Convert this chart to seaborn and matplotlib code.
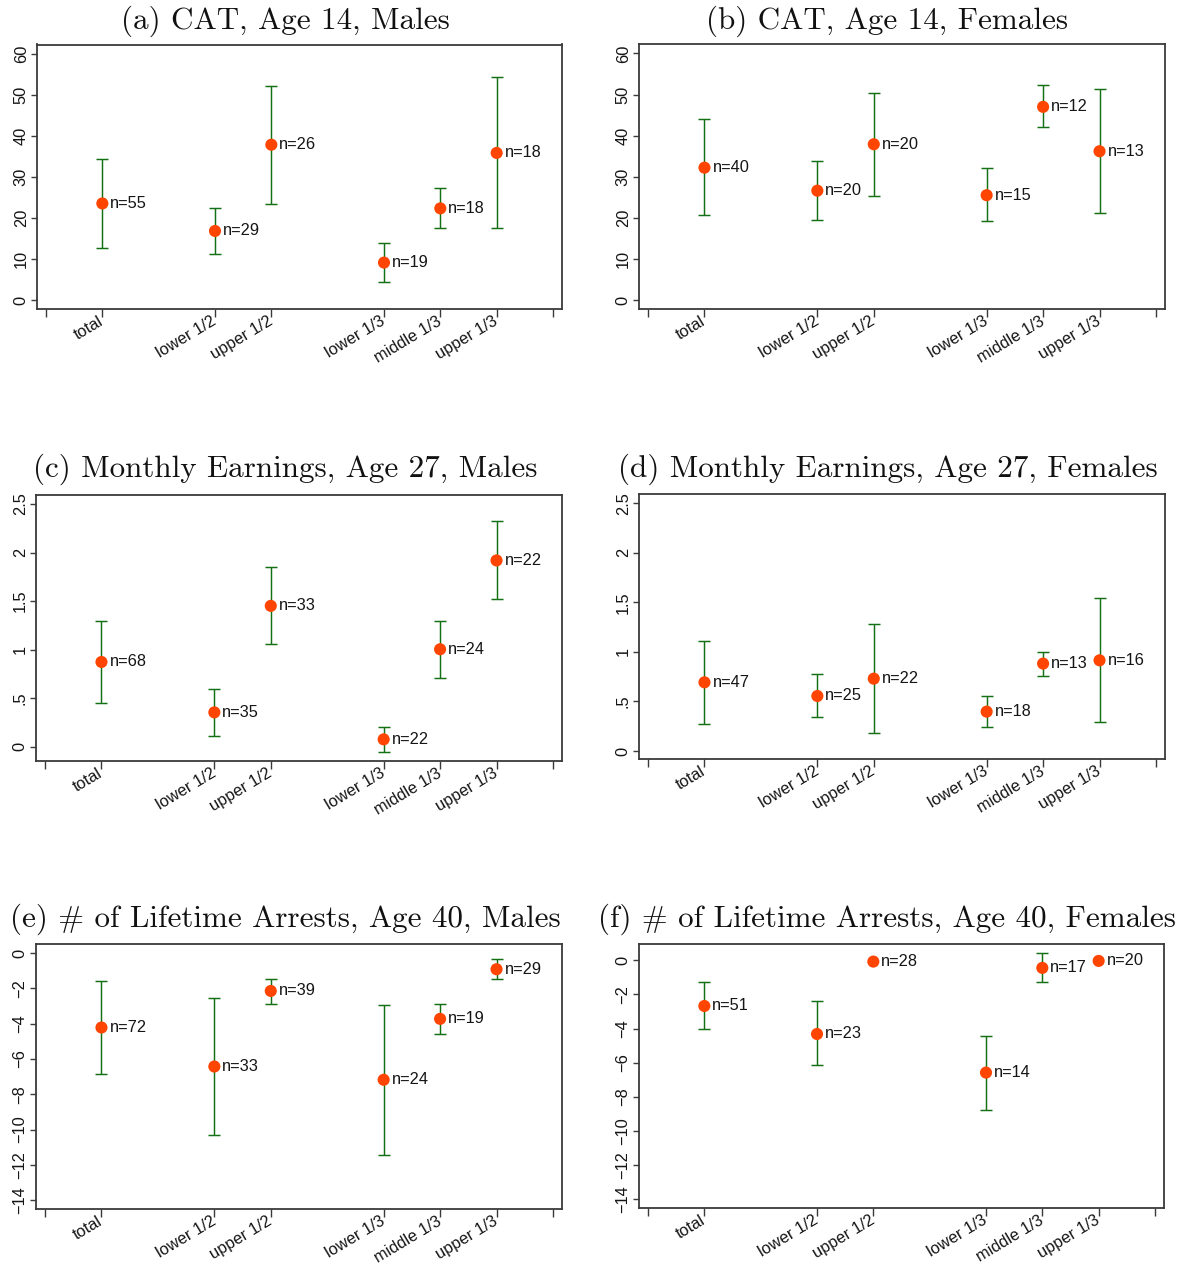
import numpy as np
import pandas as pd
import matplotlib
matplotlib.use("Agg")
import matplotlib.pyplot as plt
import seaborn as sns

# ---- data -------------------------------------------------------------
groups = ["total", "lower 1/2", "upper 1/2", "lower 1/3", "middle 1/3", "upper 1/3"]

# (a) CAT, Age 14, Males
cat_m_mean = [23.5, 16.8, 37.8, 9.1, 22.3, 35.8]
cat_m_lo = [12.7, 11.1, 23.4, 4.4, 17.4, 17.5]
cat_m_hi = [34.4, 22.4, 52.2, 13.9, 27.2, 54.2]
cat_m_n = [55, 29, 26, 19, 18, 18]

# (b) CAT, Age 14, Females
cat_f_mean = [32.2, 26.6, 37.9, 25.5, 47.0, 36.2]
cat_f_lo = [20.6, 19.4, 25.4, 19.1, 42.0, 21.2]
cat_f_hi = [44.0, 33.8, 50.4, 32.0, 52.3, 51.4]
cat_f_n = [40, 20, 20, 15, 12, 13]

# (c) Monthly Earnings, Age 27, Males
earn_m_mean = [0.873, 0.354, 1.451, 0.076, 1.004, 1.919]
earn_m_lo = [0.454, 0.113, 1.063, -0.052, 0.705, 1.517]
earn_m_hi = [1.293, 0.595, 1.847, 0.206, 1.300, 2.321]
earn_m_n = [68, 35, 33, 22, 24, 22]

# (d) Monthly Earnings, Age 27, Females
earn_f_mean = [0.693, 0.555, 0.730, 0.397, 0.882, 0.915]
earn_f_lo = [0.276, 0.340, 0.185, 0.246, 0.760, 0.289]
earn_f_hi = [1.107, 0.774, 1.282, 0.559, 1.003, 1.548]
earn_f_n = [47, 25, 22, 18, 13, 16]

# (e) # of Lifetime Arrests, Age 40, Males
arr_m_mean = [-4.22, -6.43, -2.15, -7.18, -3.73, -0.92]
arr_m_lo = [-6.86, -10.29, -2.88, -11.44, -4.56, -1.45]
arr_m_hi = [-1.58, -2.56, -1.45, -2.92, -2.88, -0.36]
arr_m_n = [72, 33, 39, 24, 19, 29]

# (f) # of Lifetime Arrests, Age 40, Females (no interval for two groups)
arr_f_mean = [-2.68, -4.32, -0.08, -6.58, -0.45, -0.04]
arr_f_lo = [-4.02, -6.15, np.nan, -8.77, -1.29, np.nan]
arr_f_hi = [-1.29, -2.40, np.nan, -4.41, 0.45, np.nan]
arr_f_n = [51, 23, 28, 14, 17, 20]

# ---- layout -----------------------------------------------------------
W, H = 1183, 1264
DPI = 100
group_x = [1, 3, 4, 6, 7, 8]
xtick_pos = [0, 1, 3, 4, 6, 7, 8, 9]
xtick_lab = [""] + groups + [""]

sns.set_style("white")
plt.rcParams["font.family"] = ["Liberation Sans", "DejaVu Sans"]
plt.rcParams["axes.unicode_minus"] = True

MARKER = "#FF4500"
BAR = "#147014"
FRAME = "#3a3a3a"
TXT = "#151515"
FS = 11.8

fig = plt.figure(figsize=(W / DPI, H / DPI), dpi=DPI)
fig.patch.set_facecolor("white")


def px_axes(left, top, right, bottom):
    return fig.add_axes([left / W, 1 - bottom / H, (right - left) / W, (bottom - top) / H])


def fmt_num(v):
    if float(v).is_integer():
        s = str(int(v))
    else:
        s = ("%g" % v)
        if s.startswith("0."):
            s = s[1:]
    return s.replace("-", "\u2212")


panels = [
    dict(title="(a) CAT, Age 14, Males", mean=cat_m_mean, lo=cat_m_lo, hi=cat_m_hi, n=cat_m_n,
         box=(37, 44.5, 562, 309), tcx=285, tcy=21, ylim=(-2.2, 62.2), yticks=[0, 10, 20, 30, 40, 50, 60]),
    dict(title="(b) CAT, Age 14, Females", mean=cat_f_mean, lo=cat_f_lo, hi=cat_f_hi, n=cat_f_n,
         box=(639, 44, 1165, 309), tcx=887, tcy=21, ylim=(-2.2, 62.3), yticks=[0, 10, 20, 30, 40, 50, 60]),
    dict(title="(c) Monthly Earnings, Age 27, Males", mean=earn_m_mean, lo=earn_m_lo, hi=earn_m_hi, n=earn_m_n,
         box=(36, 495, 562, 761), tcx=285, tcy=469, ylim=(-0.147, 2.593), yticks=[0, 0.5, 1, 1.5, 2, 2.5]),
    dict(title="(d) Monthly Earnings, Age 27, Females", mean=earn_f_mean, lo=earn_f_lo, hi=earn_f_hi, n=earn_f_n,
         box=(639, 494, 1165, 759), tcx=888, tcy=469, ylim=(-0.081, 2.594), yticks=[0, 0.5, 1, 1.5, 2, 2.5]),
    dict(title="(e) # of Lifetime Arrests, Age 40, Males", mean=arr_m_mean, lo=arr_m_lo, hi=arr_m_hi, n=arr_m_n,
         box=(36, 944, 562, 1209), tcx=285, tcy=919, ylim=(-14.5, 0.51), yticks=list(range(0, -15, -2))),
    dict(title="(f) # of Lifetime Arrests, Age 40, Females", mean=arr_f_mean, lo=arr_f_lo, hi=arr_f_hi, n=arr_f_n,
         box=(639, 944, 1164, 1208), tcx=887, tcy=919, ylim=(-14.51, 0.95), yticks=list(range(0, -15, -2))),
]

for p in panels:
    ax = px_axes(*p["box"])
    df = pd.DataFrame({"group": groups, "x": group_x, "mean": p["mean"],
                       "lo": p["lo"], "hi": p["hi"], "n": p["n"]})

    # confidence intervals
    ci = df.dropna(subset=["lo", "hi"])
    ax.errorbar(ci["x"], ci["mean"],
                yerr=[ci["mean"] - ci["lo"], ci["hi"] - ci["mean"]],
                fmt="none", ecolor=BAR, elinewidth=1.05, capsize=4.2, capthick=1.05, zorder=2)

    # point estimates
    sns.scatterplot(data=df, x="x", y="mean", ax=ax, color=MARKER, s=76,
                    edgecolor="none", linewidth=0, zorder=3, legend=False)

    # sample sizes
    for _, r in df.iterrows():
        ax.annotate(f"n={int(r['n'])}", (r["x"], r["mean"]), xytext=(5.8, 0),
                    textcoords="offset points", ha="left", va="center",
                    fontsize=FS, color=TXT, zorder=4)

    ax.set_xlim(-0.16, 9.16)
    ax.set_ylim(*p["ylim"])
    ax.set_xticks(xtick_pos)
    ax.set_xticklabels(xtick_lab, rotation=31, ha="right", va="center",
                       rotation_mode="anchor", fontsize=FS, color=TXT)
    ax.set_yticks(p["yticks"])
    ax.set_yticklabels([fmt_num(v) for v in p["yticks"]], rotation=90, va="center",
                       fontsize=FS, color=TXT)
    ax.tick_params(axis="x", direction="out", length=5.5, width=1.0, color=FRAME, pad=2.5,
                   bottom=True)
    ax.tick_params(axis="y", direction="out", length=4.5, width=1.0, color=FRAME, pad=1.5,
                   left=True)
    ax.set_xlabel("")
    ax.set_ylabel("")
    for sp in ax.spines.values():
        sp.set_visible(True)
        sp.set_color(FRAME)
        sp.set_linewidth(1.3)
    ax.set_facecolor("white")

    fig.text(p["tcx"] / W, 1 - p["tcy"] / H, p["title"], ha="center", va="center",
             fontsize=22.4, family=["cmr10", "DejaVu Serif"], color="#111111")

fig.savefig("out.png", dpi=DPI, facecolor="white")
